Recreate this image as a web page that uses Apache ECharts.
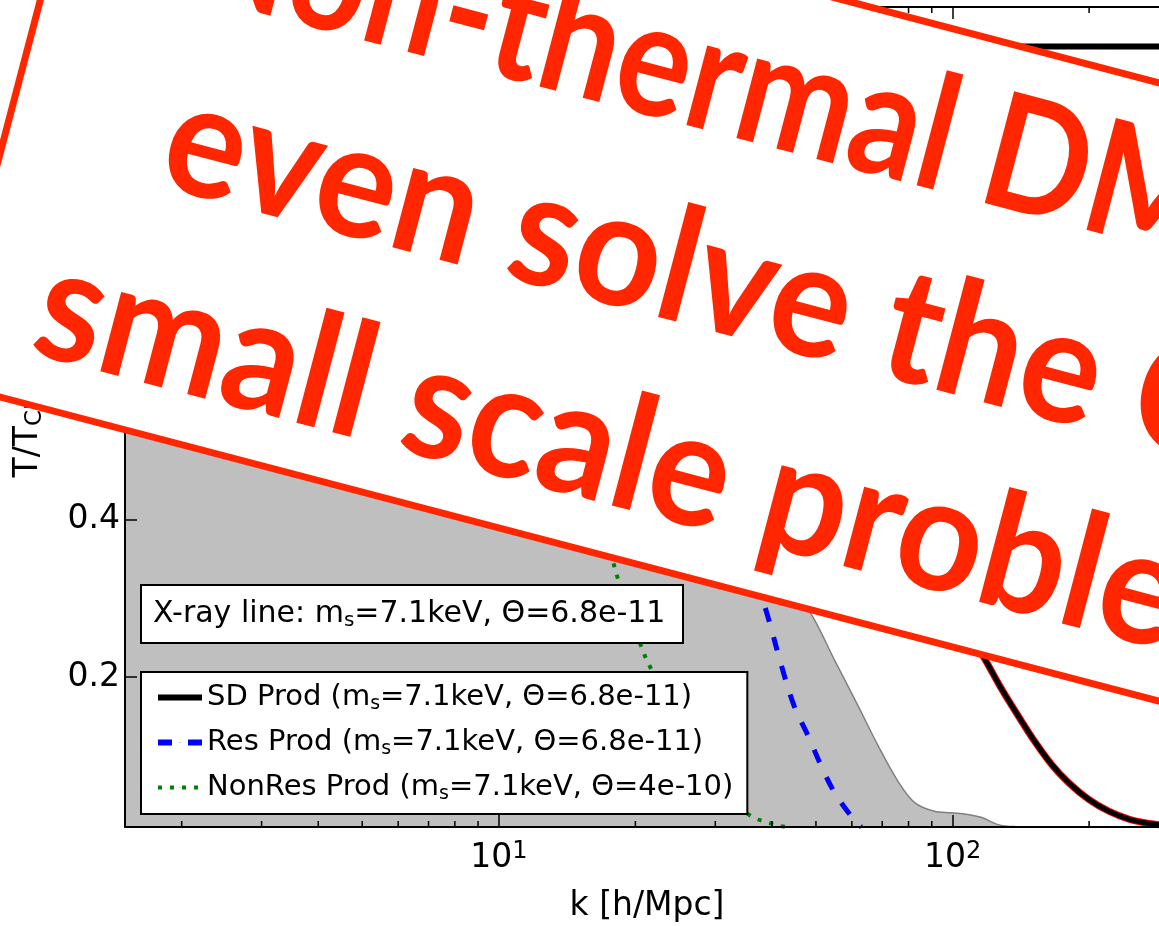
<!DOCTYPE html>
<html>
<head>
<meta charset="utf-8">
<script src="https://cdn.jsdelivr.net/npm/echarts@6/dist/echarts.min.js"></script>
<style>html,body{margin:0;padding:0;background:#fff}#c{width:1159px;height:926px}</style>
</head>
<body>
<div id="c"></div>
<script>
// ---------------- data ----------------
const kRange = [1.5, 300];
const tRange = [0.01, 1.05];
const xTickValues = [10, 100];
const xTickExponents = ['1', '2'];
const minorTickK = [2, 3, 4, 5, 6, 7, 8, 9, 20, 30, 40, 50, 60, 70, 80, 90, 200];

// grey shaded region (upper boundary)
const grayK = [1.5, 3, 5, 8, 12, 16, 20, 25, 30, 35, 40, 45, 49.5, 54.8, 62.0, 68.7, 76.0, 82.5, 91.2, 99.5, 108, 116, 126, 137];
const grayT = [1.0, 0.99, 0.96, 0.9, 0.82, 0.74, 0.66, 0.57, 0.48, 0.41, 0.35, 0.31, 0.274, 0.223, 0.163, 0.112, 0.067, 0.041, 0.030, 0.028, 0.026, 0.022, 0.013, 0.0105];

// SD Prod (black, with red underlay)
const sdK = [1.5, 5, 10, 20, 30, 45, 60, 80, 100, 118.9, 128.3, 139.9, 151.8, 165.5, 180.4, 199.6, 221, 244.6, 270.9, 300];
const sdT = [1.0, 0.99, 0.96, 0.89, 0.80, 0.66, 0.54, 0.40, 0.294, 0.219, 0.185, 0.150, 0.1185, 0.089, 0.066, 0.045, 0.030, 0.020, 0.0145, 0.012];

// Res Prod (blue dashed)
const resK = [1.5, 3, 5, 8, 12, 16, 20, 25, 30, 35, 39.3, 42.0, 44.8, 48.1, 51.4, 54.9, 58.9, 61.4, 63];
const resT = [1.0, 1.0, 0.995, 0.98, 0.94, 0.87, 0.78, 0.64, 0.5, 0.37, 0.274, 0.214, 0.163, 0.125, 0.087, 0.054, 0.0287, 0.0157, 0.01];

// NonRes Prod (green dotted)
const nonResK = [1.5, 3, 5, 8, 11, 14, 16, 17.9, 18.3, 20.6, 21.3, 24, 27, 30, 33, 35.5, 37.3, 39.3, 41.1, 43];
const nonResT = [1.0, 0.99, 0.96, 0.87, 0.72, 0.54, 0.43, 0.344, 0.325, 0.239, 0.219, 0.16, 0.105, 0.065, 0.038, 0.026, 0.0195, 0.0157, 0.012, 0.01];

// reference line at the top
const refK = [1.5, 300];
const refT = [1.0, 1.0];

// texts
const legendNames = ['SD Prod', 'Res Prod', 'NonRes Prod'];
const legendMass = ['7.1keV', '7.1keV', '7.1keV'];
const legendTheta = ['6.8e-11', '6.8e-11', '4e-10'];
const xrayParts = ['X-ray line: m', 's', '=7.1keV, \u0398=6.8e-11'];
const xAxisName = 'k [h/Mpc]';
const yAxisNameParts = ['T/T', 'CDM'];
const bannerLines = ['Non-thermal DM can', 'even solve the CDM', 'small scale problems?'];

// ---------------- styling / layout ----------------
const FONT = 'DejaVu Sans';
const RED = '#ff2600';
const bannerAngle = 14.7 * Math.PI / 180;
const bannerFont = 160;
const bannerScaleX = [0.865, 0.942, 0.94];
const bannerStartU = [170, 197, 116];
const bannerBaseV = [-49, 144, 338];
const legendLineWidth = [6, 6, 4];

function zip(a, b) { return a.map((v, i) => [v, b[i]]); }

const chart = echarts.init(document.getElementById('c'), null, {renderer: 'canvas'});

const commonAxisLine = {show: true, onZero: false, lineStyle: {color: '#000', width: 2}};
const commonTick = {show: true, inside: true, length: 12, lineStyle: {color: '#000', width: 1.5}};
const SMOOTH = 0.35;

const option = {
  animation: false,
  backgroundColor: '#fff',
  grid: {left: 125, top: 7, right: -10, bottom: 99, containLabel: false, outerBoundsMode: 'none'},
  title: {
    left: 141, top: 584,
    text: '{t|' + xrayParts[0] + '}{sub|' + xrayParts[1] + '}{t|' + xrayParts[2] + '}',
    padding: [12, 18, 12, 12],
    backgroundColor: '#fff', borderColor: '#000', borderWidth: 2,
    textStyle: {
      fontFamily: FONT, fontSize: 30, fontWeight: 'normal', color: '#000',
      rich: {
        t: {fontFamily: FONT, fontSize: 30, color: '#000', lineHeight: 36},
        sub: {fontFamily: FONT, fontSize: 20, color: '#000', lineHeight: 22, padding: [14, 0, 0, 0]}
      }
    }
  },
  legend: {
    orient: 'vertical', left: 141, top: 672,
    padding: [9, 14, 10, 14], itemGap: 12, itemWidth: 44, itemHeight: 1,
    backgroundColor: '#fff', borderColor: '#000', borderWidth: 2, borderRadius: 0,
    lineStyle: {width: 5},
    data: legendNames.map((n, i) => ({name: n, lineStyle: {width: legendLineWidth[i]}})),
    formatter: function (name) {
      const i = legendNames.indexOf(name);
      return '{t|' + name + ' (m}{sub|s}{t|=' + legendMass[i] + ', \u0398=' + legendTheta[i] + ')}';
    },
    textStyle: {
      fontFamily: FONT, fontSize: 29, color: '#000',
      rich: {
        t: {fontFamily: FONT, fontSize: 29, color: '#000', lineHeight: 36},
        sub: {fontFamily: FONT, fontSize: 19, color: '#000', lineHeight: 22, padding: [14, 0, 0, 0]}
      }
    }
  },
  xAxis: [{
    type: 'log', logBase: 10, min: kRange[0], max: kRange[1], position: 'bottom', z: 10,
    axisLine: commonAxisLine, axisTick: commonTick,
    splitLine: {show: false}, minorTick: {show: false},
    axisLabel: {
      show: true, showMinLabel: false, showMaxLabel: false, margin: 12,
      formatter: function (v) {
        const i = xTickValues.findIndex(t => Math.abs(t - v) / t < 1e-6);
        if (i < 0) return '';
        return '{b|10}{s|' + xTickExponents[i] + '}';
      },
      rich: {
        b: {fontFamily: FONT, fontSize: 33, color: '#000', lineHeight: 38},
        s: {fontFamily: FONT, fontSize: 24, color: '#000', lineHeight: 26, padding: [0, 0, 12, 0]}
      }
    },
    name: xAxisName, nameLocation: 'middle', nameGap: 63,
    nameTextStyle: {fontFamily: FONT, fontSize: 33, color: '#000'}
  }, {
    type: 'log', logBase: 10, min: kRange[0], max: kRange[1], position: 'top', z: 10,
    axisLine: commonAxisLine, axisTick: commonTick,
    splitLine: {show: false}, axisLabel: {show: false}
  }],
  yAxis: [{
    type: 'value', min: tRange[0], max: tRange[1], splitNumber: 5, z: 10,
    axisLine: commonAxisLine, axisTick: commonTick,
    splitLine: {show: false},
    axisLabel: {show: true, showMinLabel: false, showMaxLabel: false, margin: 5,
      fontFamily: FONT, fontSize: 33, color: '#000'},
    name: '{t|' + yAxisNameParts[0] + '}{sub|' + yAxisNameParts[1] + '}',
    nameLocation: 'middle', nameGap: 77,
    nameTextStyle: {
      fontFamily: FONT, fontSize: 33, color: '#000', padding: [0, 16, 0, 0],
      rich: {
        t: {fontFamily: FONT, fontSize: 33, color: '#000', lineHeight: 40},
        sub: {fontFamily: FONT, fontSize: 23, color: '#000', lineHeight: 26, padding: [14, 0, 0, 0]}
      }
    }
  }],
  series: [
    {
      name: 'grey region', type: 'line', data: zip(grayK, grayT), symbol: 'none',
      smooth: SMOOTH, z: 1,
      lineStyle: {color: '#808080', width: 1.5},
      areaStyle: {color: '#bfbfbf', opacity: 1, origin: 'start'}
    },
    {
      name: 'NonRes Prod', type: 'line', data: zip(nonResK, nonResT), symbol: 'none',
      smooth: SMOOTH, z: 3, color: '#008000',
      lineStyle: {color: '#008000', width: 4, type: [4, 8], cap: 'butt'}
    },
    {
      name: 'Res Prod', type: 'line', data: zip(resK, resT), symbol: 'none',
      smooth: SMOOTH, z: 3, color: '#0000ff',
      lineStyle: {color: '#0000ff', width: 5, type: [14, 16], cap: 'butt'}
    },
    {
      name: 'SD fit', type: 'line', data: zip(sdK, sdT), symbol: 'none',
      smooth: SMOOTH, z: 3, color: '#ff0000',
      lineStyle: {color: '#ff0000', width: 7}
    },
    {
      name: 'SD Prod', type: 'line', data: zip(sdK, sdT), symbol: 'none',
      smooth: SMOOTH, z: 4, color: '#000',
      lineStyle: {color: '#000', width: 5}
    },
    {
      name: 'reference', type: 'line', data: zip(refK, refT), symbol: 'none', z: 4,
      color: '#000', lineStyle: {color: '#000', width: 6}
    },
    {
      name: 'minor ticks', type: 'custom', z: 12, silent: true,
      data: minorTickK.map(k => [k, tRange[0]]),
      renderItem: function (params, api) {
        const k = api.value(0);
        const b = api.coord([k, tRange[0]]);
        const t = api.coord([k, tRange[1]]);
        return {type: 'group', children: [
          {type: 'line', shape: {x1: b[0], y1: b[1], x2: b[0], y2: b[1] - 6}, style: {stroke: '#000', lineWidth: 1.5}},
          {type: 'line', shape: {x1: t[0], y1: t[1], x2: t[0], y2: t[1] + 6}, style: {stroke: '#000', lineWidth: 1.5}}
        ]};
      }
    }
  ],
  graphic: {
    elements: [{
      type: 'group', x: 0, y: 0, rotation: -bannerAngle, z: 100,
      children: [
        {type: 'rect', z: 100, shape: {x: 39, y: -214, width: 1700, height: 598},
          style: {fill: '#fff', stroke: RED, lineWidth: 7}},
      ].concat(bannerLines.map((line, i) => ({
        type: 'text', z: 101,
        x: bannerStartU[i], y: bannerBaseV[i] - 0.35 * bannerFont, scaleX: bannerScaleX[i],
        style: {text: line, x: 0, y: 0, fill: RED,
          font: 'bold ' + bannerFont + 'px Lato',
          textAlign: 'left', textVerticalAlign: 'middle', align: 'left', verticalAlign: 'middle'}
      })))
    }]
  }
};
chart.setOption(option);
</script>
</body>
</html>
